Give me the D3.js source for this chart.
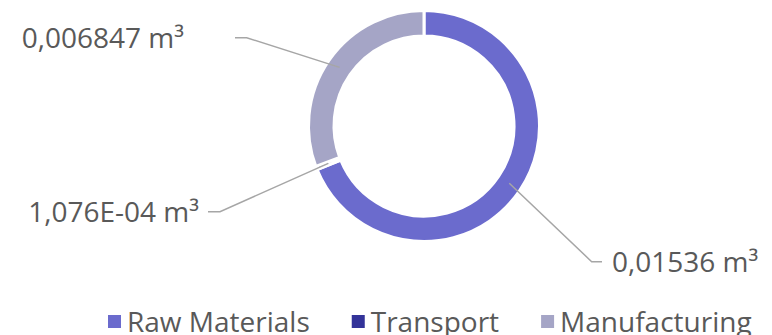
<!DOCTYPE html>
<html>
<head>
<meta charset="utf-8">
<script src="https://cdn.jsdelivr.net/npm/d3@7"></script>
<style>
  html, body { margin: 0; padding: 0; background: #fff; }
  svg { display: block; }
  text { font-family: "Open Sans", sans-serif; fill: #595959; }
</style>
</head>
<body>
<svg id="chart" width="772" height="335"></svg>
<script>
// ---- data ----
const categories = ["Raw Materials", "Transport", "Manufacturing"];
const values = [0.01536, 1.076e-4, 0.006847];
const labels = ["0,01536 m³", "1,076E-04 m³", "0,006847 m³"];
const colors = ["#6B6BCD", "#333399", "#A5A5C6"];

// ---- layout ----
const W = 772, H = 335;
const cx = 424, cy = 126;
const rOuter = 115.5, rInner = 90;
// label elbow points and text placement (layout only)
const labelLayout = [
  { elbow: [591.7, 261.7], end: [602, 261.7], text: [612, 261.7], anchor: "start" },
  { elbow: [220, 211.7], end: [208, 211.7], text: [199, 211.7], anchor: "end" },
  { elbow: [246.7, 37.7], end: [235, 37.7], text: [184, 37.7], anchor: "end" }
];

const svg = d3.select("#chart");
const data = categories.map((c, i) => ({ cat: c, value: values[i], label: labels[i], color: colors[i], i }));

const pie = d3.pie().value(d => d.value).sort(null).startAngle(0).endAngle(2 * Math.PI);
const arcs = pie(data);
const arc = d3.arc().innerRadius(rInner).outerRadius(rOuter);
const midArc = d3.arc().innerRadius((rInner + rOuter) / 2).outerRadius((rInner + rOuter) / 2);

const g = svg.append("g").attr("transform", `translate(${cx},${cy})`);
g.selectAll("path.slice")
  .data(arcs)
  .join("path")
  .attr("class", "slice")
  .attr("d", arc)
  .attr("fill", d => d.data.color)
  .attr("stroke", "#fff")
  .attr("stroke-width", 3)
  .attr("stroke-linejoin", "round");

// leader lines
arcs.forEach((a, i) => {
  const [mx, my] = midArc.centroid(a);
  const L = labelLayout[i];
  svg.append("polyline")
    .attr("points", [[cx + mx, cy + my], L.elbow, L.end].map(p => p.join(",")).join(" "))
    .attr("fill", "none")
    .attr("stroke", "#A6A6A6")
    .attr("stroke-width", 1.5);
  svg.append("text")
    .attr("x", L.text[0])
    .attr("y", L.text[1])
    .attr("dy", "0.36em")
    .attr("text-anchor", L.anchor)
    .style("font-size", "28px")
    .text(a.data.label);
});

// legend
const legend = svg.append("g");
let lx = 108;
const legY = 321.5, sq = 13, gapSqText = 6, gapItem = 42;
data.forEach(d => {
  legend.append("rect")
    .attr("x", lx).attr("y", legY - sq / 2)
    .attr("width", sq).attr("height", sq)
    .attr("fill", d.color);
  const t = legend.append("text")
    .attr("x", lx + sq + gapSqText)
    .attr("y", 332)
    .style("font-size", "28px")
    .text(d.cat);
  const w = t.node().getComputedTextLength();
  lx += sq + gapSqText + w + gapItem;
});
</script>
</body>
</html>
